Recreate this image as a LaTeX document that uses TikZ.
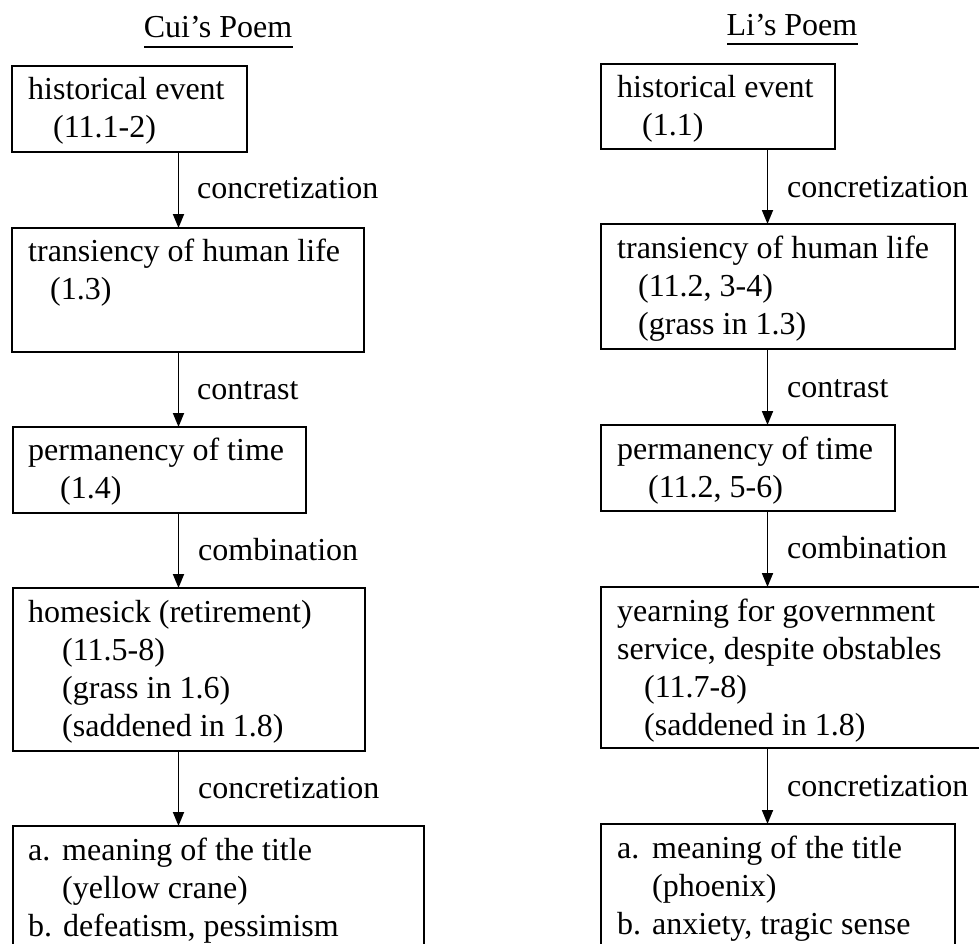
\documentclass[tikz,border=0pt]{standalone}
\usepackage{fontspec}
\setmainfont{Liberation Serif}
\usetikzlibrary{arrows.meta}
\frenchspacing
\tikzset{
  box/.style={draw, line width=1.8pt, anchor=north west, inner sep=0pt, outer sep=0pt},
  txt/.style={anchor=base west, inner sep=0pt, font=\fontsize{32}{38}\selectfont},
  arr/.style={line width=1.8pt, -{Triangle[width=11pt,length=14pt]}},
  ttl/.style={anchor=base, inner sep=0pt, font=\fontsize{32}{38}\selectfont}
}
\begin{document}
\begin{tikzpicture}[x=1pt,y=-1pt]
\path[use as bounding box, clip] (0,0) rectangle (979,944);
\fill[white] (0,0) rectangle (979,944);
% titles
\node[ttl] (t1) at (218,38) {Cui’s Poem};
\draw[line width=1.4pt] (144,47) -- (293,47);
\node[ttl] (t2) at (792,36) {Li’s Poem};
\draw[line width=1.4pt] (727,44) -- (858,44);
% left column boxes
\node[box, minimum width=235pt, minimum height=86pt] (l1) at (12,66) {};
\node[box, minimum width=352pt, minimum height=124pt] (l2) at (12,228) {};
\node[box, minimum width=293pt, minimum height=86pt] (l3) at (13,427) {};
\node[box, minimum width=352pt, minimum height=163pt] (l4) at (13,588) {};
\node[box, minimum width=411pt, minimum height=200pt] (l5) at (13,826) {};
% left texts
\node[txt] at (28,100) {historical event};
\node[txt] at (53,138) {(11.1-2)};
\node[txt] at (28,261) {transiency of human life};
\node[txt] at (50,299) {(1.3)};
\node[txt] at (28,460) {permanency of time};
\node[txt] at (60,498) {(1.4)};
\node[txt] at (28,622) {homesick (retirement)};
\node[txt] at (62,660) {(11.5-8)};
\node[txt] at (62,698) {(grass in 1.6)};
\node[txt] at (62,736) {(saddened in 1.8)};
\node[txt] at (28,860) {a.};
\node[txt] at (62,860) {meaning of the title};
\node[txt] at (62,898) {(yellow crane)};
\node[txt] at (28,936) {b.};
\node[txt] at (63,936) {defeatism, pessimism};
% left arrows
\coordinate (la) at (178.5,0);
\draw[arr] (l1.south -| la) -- (l2.north -| la);
\draw[arr] (l2.south -| la) -- (l3.north -| la);
\draw[arr] (l3.south -| la) -- (l4.north -| la);
\draw[arr] (l4.south -| la) -- (l5.north -| la);
\node[txt] (ll1) at (197,199) {concretization};
\node[txt] (ll2) at (197,399) {contrast};
\node[txt] (ll3) at (198,560) {combination};
\node[txt] (ll4) at (198,798) {concretization};
% right column boxes
\node[box, minimum width=234pt, minimum height=85pt] (r1) at (601,64) {};
\node[box, minimum width=354pt, minimum height=125pt] (r2) at (601,224) {};
\node[box, minimum width=294pt, minimum height=86pt] (r3) at (601,425) {};
\node[box, minimum width=400pt, minimum height=161pt] (r4) at (601,587) {};
\node[box, minimum width=354pt, minimum height=200pt] (r5) at (601,824) {};
% right texts
\node[txt] at (617,98) {historical event};
\node[txt] at (642,136) {(1.1)};
\node[txt] at (617,258) {transiency of human life};
\node[txt] at (638,296) {(11.2, 3-4)};
\node[txt] at (638,334) {(grass in 1.3)};
\node[txt] at (617,459) {permanency of time};
\node[txt] at (648,497) {(11.2, 5-6)};
\node[txt] at (617,621) {yearning for government};
\node[txt] at (617,659) {service, despite obstables};
\node[txt] at (644,697) {(11.7-8)};
\node[txt] at (644,735) {(saddened in 1.8)};
\node[txt] at (617,858) {a.};
\node[txt] at (652,858) {meaning of the title};
\node[txt] at (652,896) {(phoenix)};
\node[txt] at (617,934) {b.};
\node[txt] at (652,934) {anxiety, tragic sense};
% right arrows
\coordinate (ra) at (767.5,0);
\draw[arr] (r1.south -| ra) -- (r2.north -| ra);
\draw[arr] (r2.south -| ra) -- (r3.north -| ra);
\draw[arr] (r3.south -| ra) -- (r4.north -| ra);
\draw[arr] (r4.south -| ra) -- (r5.north -| ra);
\node[txt] (rl1) at (787,197) {concretization};
\node[txt] (rl2) at (787,397) {contrast};
\node[txt] (rl3) at (787,558) {combination};
\node[txt] (rl4) at (787,796) {concretization};
\end{tikzpicture}
\end{document}
